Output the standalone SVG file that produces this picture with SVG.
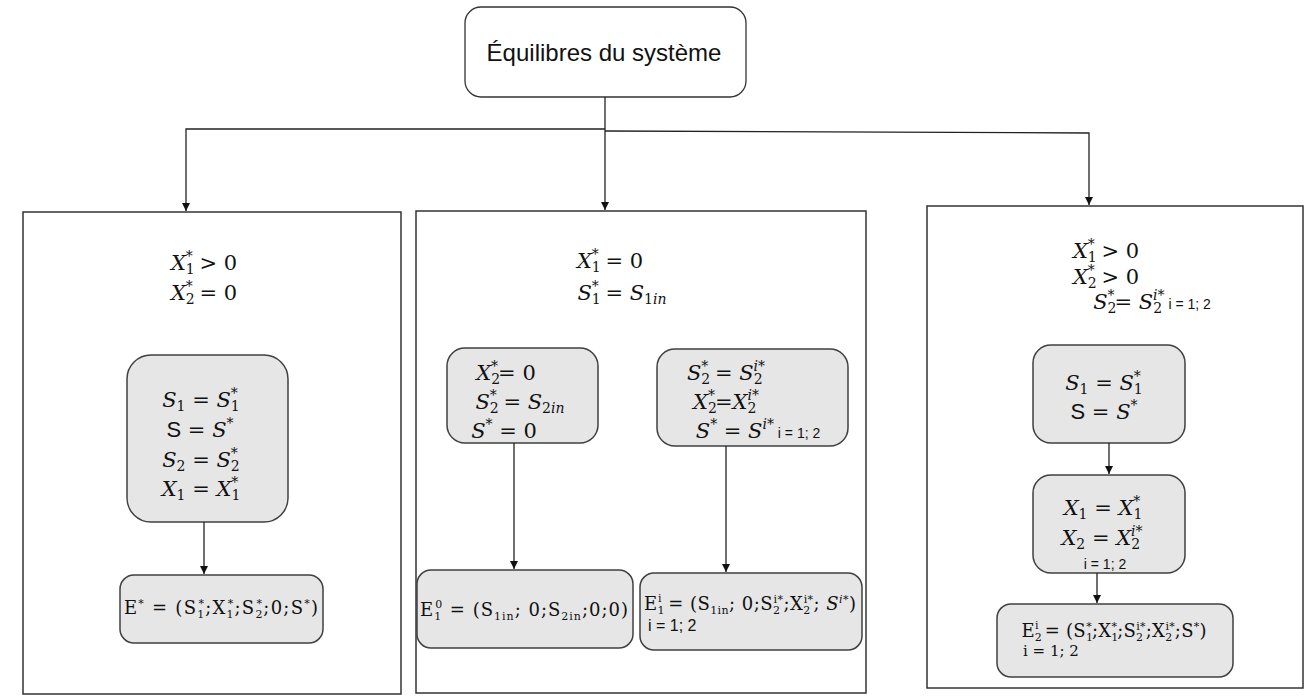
<svg xmlns="http://www.w3.org/2000/svg" width="1309" height="698" viewBox="0 0 1309 698">
<defs>
<marker id="arr" viewBox="0 0 10 10" refX="10" refY="5" markerWidth="8" markerHeight="8" markerUnits="userSpaceOnUse" orient="auto">
<path d="M0,0 L10,5 L0,10 z" fill="#111"/>
</marker>
<style>
.outer{fill:#fff;stroke:#333;stroke-width:1.5}
.inner{fill:#e6e6e6;stroke:#404040;stroke-width:1.5}
.top{fill:#fff;stroke:#333;stroke-width:1.3}
.ln{fill:none;stroke:#222;stroke-width:1.3}
.m{font-family:"DejaVu Serif",serif;font-size:21px;fill:#111;text-anchor:middle}
.e{font-family:"DejaVu Serif",serif;font-size:18px;fill:#111;text-anchor:middle}
.i{font-style:italic}
.s{font-size:14px}
.ss{font-size:11px}
.sm{font-family:"Liberation Sans",sans-serif;font-size:14px}
.up{font-family:"Liberation Sans",sans-serif;font-size:22px}
.t{font-family:"Liberation Sans",Arial,sans-serif;font-size:24px;fill:#111;text-anchor:middle}
</style>
</defs>
<rect width="1309" height="698" fill="#fff"/>

<g id="root">
<rect class="top" x="465" y="7" width="281" height="90" rx="16"/>
<text class="t" x="604" y="61">Équilibres du système</text>
</g>

<g id="case1">
<rect class="outer" x="23" y="212" width="378" height="482"/>
<text class="m" x="204" y="270"><tspan class="i">X</tspan><tspan class="s" dy="4">1</tspan><tspan class="s" dx="-9" dy="-13">*</tspan><tspan dy="9"> &gt; 0</tspan></text>
<text class="m" x="204" y="300"><tspan class="i">X</tspan><tspan class="s" dy="4">2</tspan><tspan class="s" dx="-9" dy="-13">*</tspan><tspan dy="9"> = 0</tspan></text>
</g>
<g id="c1-state">
<rect class="inner" x="127" y="355" width="161" height="167" rx="24"/>
<text class="m" x="201" y="407"><tspan class="i">S</tspan><tspan class="s" dy="4">1</tspan><tspan dy="-4"> = </tspan><tspan class="i">S</tspan><tspan class="s" dy="4">1</tspan><tspan class="s" dx="-9" dy="-13">*</tspan></text>
<text class="m" x="200" y="437"><tspan class="up">S</tspan><tspan>  = </tspan><tspan class="i">S</tspan><tspan class="s" dy="-9">*</tspan></text>
<text class="m" x="201" y="467"><tspan class="i">S</tspan><tspan class="s" dy="4">2</tspan><tspan dy="-4"> = </tspan><tspan class="i">S</tspan><tspan class="s" dy="4">2</tspan><tspan class="s" dx="-9" dy="-13">*</tspan></text>
<text class="m" x="201" y="496"><tspan class="i">X</tspan><tspan class="s" dy="4">1</tspan><tspan dy="-4"> = </tspan><tspan class="i">X</tspan><tspan class="s" dy="4">1</tspan><tspan class="s" dx="-9" dy="-13">*</tspan></text>
</g>
<g id="c1-eq">
<rect class="inner" x="120" y="575" width="203" height="68" rx="14"/>
<text class="e" x="221" y="614" textLength="194">E<tspan class="ss" dy="-7">*</tspan><tspan dy="7"> =  (S</tspan><tspan class="ss" dy="4">1</tspan><tspan class="ss" dx="-7" dy="-11">*</tspan><tspan dy="7">;X</tspan><tspan class="ss" dy="4">1</tspan><tspan class="ss" dx="-7" dy="-11">*</tspan><tspan dy="7">;S</tspan><tspan class="ss" dy="4">2</tspan><tspan class="ss" dx="-7" dy="-11">*</tspan><tspan dy="7">;0;S</tspan><tspan class="ss" dy="-7">*</tspan><tspan dy="7">)</tspan></text>
</g>

<g id="case2">
<rect class="outer" x="416" y="211" width="450" height="482"/>
<text class="m" x="610" y="268"><tspan class="i">X</tspan><tspan class="s" dy="4">1</tspan><tspan class="s" dx="-9" dy="-13">*</tspan><tspan dy="9"> = 0</tspan></text>
<text class="m" x="622" y="300"><tspan class="i">S</tspan><tspan class="s" dy="4">1</tspan><tspan class="s" dx="-9" dy="-13">*</tspan><tspan dy="9"> = </tspan><tspan class="i">S</tspan><tspan class="s" dy="4">1</tspan><tspan class="s i">in</tspan></text>
</g>
<g id="c2-washout">
<rect class="inner" x="447" y="348" width="151" height="95" rx="18"/>
<text class="m" x="506" y="380"><tspan class="i">X</tspan><tspan class="s" dy="4">2</tspan><tspan class="s" dx="-9" dy="-13">*</tspan><tspan dy="9">= 0</tspan></text>
<text class="m" x="520" y="409"><tspan class="i">S</tspan><tspan class="s" dy="4">2</tspan><tspan class="s" dx="-9" dy="-13">*</tspan><tspan dy="9"> = </tspan><tspan class="i">S</tspan><tspan class="s" dy="4">2</tspan><tspan class="s i">in</tspan></text>
<text class="m" x="504" y="438"><tspan class="i">S</tspan><tspan class="s" dy="-9">*</tspan><tspan dy="9"> = 0</tspan></text>
</g>
<g id="c2-coexist">
<rect class="inner" x="657" y="349" width="191" height="97" rx="18"/>
<text class="m" x="726" y="380"><tspan class="i">S</tspan><tspan class="s" dy="4">2</tspan><tspan class="s" dx="-9" dy="-13">*</tspan><tspan dy="9"> = </tspan><tspan class="i">S</tspan><tspan class="s" dy="4">2</tspan><tspan class="s i" dx="-9" dy="-13">i</tspan><tspan class="s">*</tspan></text>
<text class="m" x="726" y="409"><tspan class="i">X</tspan><tspan class="s" dy="4">2</tspan><tspan class="s" dx="-9" dy="-13">*</tspan><tspan dy="9">=</tspan><tspan class="i">X</tspan><tspan class="s" dy="4">2</tspan><tspan class="s i" dx="-9" dy="-13">i</tspan><tspan class="s">*</tspan></text>
<text class="m" x="758" y="438"><tspan class="i">S</tspan><tspan class="s" dy="-9">*</tspan><tspan dy="9"> = </tspan><tspan class="i">S</tspan><tspan class="s i" dy="-9">i</tspan><tspan class="s">*</tspan><tspan class="sm" dy="9"> i = 1; 2</tspan></text>
</g>
<g id="c2-eq0">
<rect class="inner" x="417" y="570" width="216" height="78" rx="14"/>
<text class="e" x="524" y="616" textLength="208">E<tspan class="ss" dy="4">1</tspan><tspan class="ss" dx="-7" dy="-12">0</tspan><tspan dy="8"> =  (S</tspan><tspan class="ss" dy="4">1in</tspan><tspan dy="-4">; 0;S</tspan><tspan class="ss" dy="4">2in</tspan><tspan dy="-4">;0;0)</tspan></text>
</g>
<g id="c2-eqi">
<rect class="inner" x="640" y="573" width="222" height="77" rx="14"/>
<text class="e" x="750" y="610" textLength="212">E<tspan class="ss" dy="4">1</tspan><tspan class="ss" dx="-7" dy="-12">i</tspan><tspan dy="8"> = (S</tspan><tspan class="ss" dy="4">1in</tspan><tspan dy="-4">; 0;S</tspan><tspan class="ss" dy="4">2</tspan><tspan class="ss" dx="-7" dy="-11">i*</tspan><tspan dy="7">;X</tspan><tspan class="ss" dy="4">2</tspan><tspan class="ss" dx="-7" dy="-11">i*</tspan><tspan dy="7">; </tspan><tspan class="i">S</tspan><tspan class="ss i" dy="-7">i*</tspan><tspan dy="7">)</tspan></text>
<text x="648" y="631" font-family="Liberation Sans, sans-serif" font-size="16" fill="#111">i = 1; 2</text>
</g>

<g id="case3">
<rect class="outer" x="927" y="206" width="376" height="482"/>
<text class="m" x="1106" y="258"><tspan class="i">X</tspan><tspan class="s" dy="4">1</tspan><tspan class="s" dx="-9" dy="-13">*</tspan><tspan dy="9"> &gt; 0</tspan></text>
<text class="m" x="1106" y="284"><tspan class="i">X</tspan><tspan class="s" dy="4">2</tspan><tspan class="s" dx="-9" dy="-13">*</tspan><tspan dy="9"> &gt; 0</tspan></text>
<text class="m" x="1152" y="309"><tspan class="i">S</tspan><tspan class="s" dy="4">2</tspan><tspan class="s" dx="-9" dy="-13">*</tspan><tspan dy="9">= </tspan><tspan class="i">S</tspan><tspan class="s" dy="4">2</tspan><tspan class="s i" dx="-9" dy="-13">i</tspan><tspan class="s">*</tspan><tspan class="sm" dy="9"> i = 1; 2</tspan></text>
</g>
<g id="c3-subs">
<rect class="inner" x="1033" y="345" width="152" height="98" rx="18"/>
<text class="m" x="1104" y="390"><tspan class="i">S</tspan><tspan class="s" dy="4">1</tspan><tspan dy="-4"> = </tspan><tspan class="i">S</tspan><tspan class="s" dy="4">1</tspan><tspan class="s" dx="-9" dy="-13">*</tspan></text>
<text class="m" x="1104" y="419"><tspan class="up">S</tspan><tspan>  = </tspan><tspan class="i">S</tspan><tspan class="s" dy="-9">*</tspan></text>
</g>
<g id="c3-bio">
<rect class="inner" x="1033" y="475" width="152" height="98" rx="18"/>
<text class="m" x="1103" y="515"><tspan class="i">X</tspan><tspan class="s" dy="4">1</tspan><tspan dy="-4"> = </tspan><tspan class="i">X</tspan><tspan class="s" dy="4">1</tspan><tspan class="s" dx="-9" dy="-13">*</tspan></text>
<text class="m" x="1102" y="545"><tspan class="i">X</tspan><tspan class="s" dy="4">2</tspan><tspan dy="-4"> = </tspan><tspan class="i">X</tspan><tspan class="s" dy="4">2</tspan><tspan class="s i" dx="-9" dy="-13">i</tspan><tspan class="s">*</tspan></text>
<text class="m sm" x="1105" y="569">i = 1; 2</text>
</g>
<g id="c3-eq">
<rect class="inner" x="997" y="604" width="236" height="73" rx="14"/>
<text class="e" x="1114" y="637" font-size="16" textLength="185">E<tspan class="ss" dy="4">2</tspan><tspan class="ss" dx="-7" dy="-12">i</tspan><tspan dy="8"> = (S</tspan><tspan class="ss" dy="4">1</tspan><tspan class="ss" dx="-7" dy="-11">*</tspan><tspan dy="7">;X</tspan><tspan class="ss" dy="4">1</tspan><tspan class="ss" dx="-7" dy="-11">*</tspan><tspan dy="7">;S</tspan><tspan class="ss" dy="4">2</tspan><tspan class="ss" dx="-7" dy="-11">i*</tspan><tspan dy="7">;X</tspan><tspan class="ss" dy="4">2</tspan><tspan class="ss" dx="-7" dy="-11">i*</tspan><tspan dy="7">;S</tspan><tspan class="ss" dy="-7">*</tspan><tspan dy="7">)</tspan></text>
<text x="1023" y="656" font-family="DejaVu Serif, serif" font-size="15" fill="#111">i = 1; 2</text>
</g>

<g id="connectors">
<path class="ln" d="M605,129 L186,129 L186,211" marker-end="url(#arr)"/>
<path class="ln" d="M605,131 L1089,133 L1089,205" marker-end="url(#arr)"/>
<path class="ln" d="M605,97 L605,210" marker-end="url(#arr)"/>
<path class="ln" d="M204,522 L204,574" marker-end="url(#arr)"/>
<path class="ln" d="M514,443 L514,569" marker-end="url(#arr)"/>
<path class="ln" d="M726,446 L726,572" marker-end="url(#arr)"/>
<path class="ln" d="M1109,443 L1109,474" marker-end="url(#arr)"/>
<path class="ln" d="M1097,573 L1097,603" marker-end="url(#arr)"/>
</g>
</svg>
